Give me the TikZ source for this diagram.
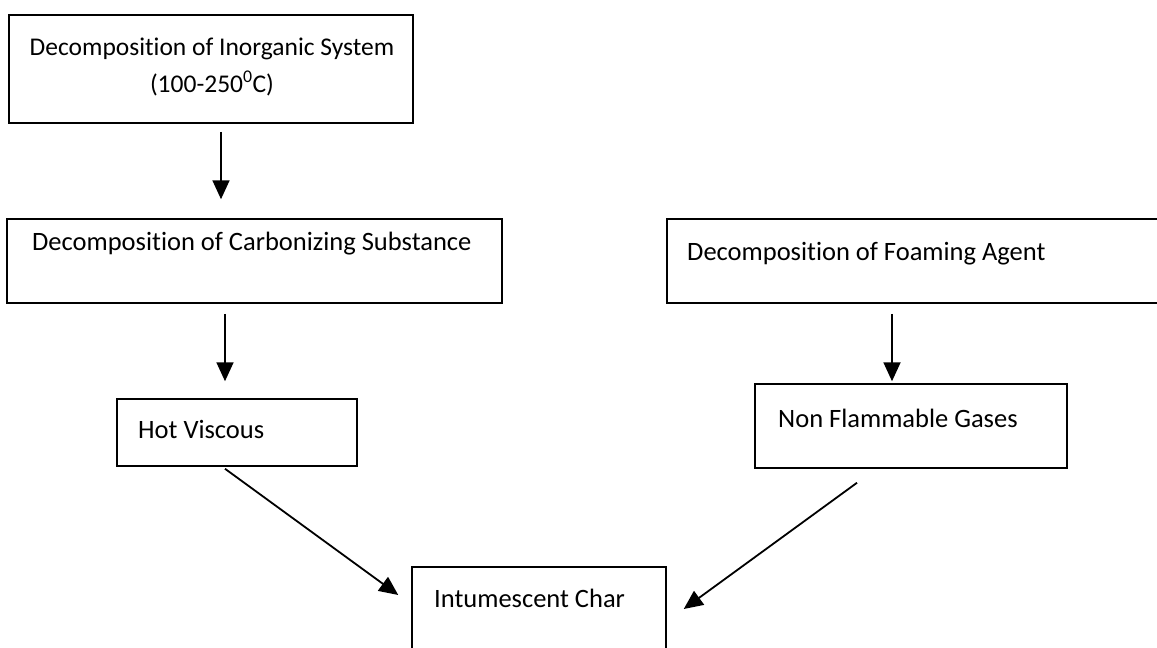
\documentclass[tikz,border=0pt]{standalone}
\usepackage{fontspec}
\setmainfont[Ligatures=NoCommon]{Carlito}
\usetikzlibrary{arrows.meta,calc}
\tikzset{
  box/.style={draw, line width=1.5pt, rectangle, inner sep=0pt},
  lbl/.style={anchor=base west, inner sep=0pt, font=\fontsize{26.5}{32}\selectfont},
  lblsmall/.style={anchor=base, inner sep=0pt, font=\fontsize{25.5}{31}\selectfont},
  arr/.style={line width=1.8pt, -{Triangle[length=19pt,width=17pt]}},
}
\begin{document}
\begin{tikzpicture}[x=1pt,y=-1pt]
\useasboundingbox (0,0) rectangle (1157,648);
\clip (0,0) rectangle (1157,648);
\fill[white] (0,0) rectangle (1157,648);
% boxes
\node[box, minimum width=404pt, minimum height=108pt] (b1) at (211,69) {};
\node[box, minimum width=495pt, minimum height=84pt] (b2) at (254.5,261) {};
\node[box, minimum width=503pt, minimum height=84pt] (b3) at (918.5,261) {};
\node[box, minimum width=240pt, minimum height=67pt] (hv) at (237,432.5) {};
\node[box, minimum width=312pt, minimum height=84pt] (nf) at (911,426) {};
\node[box, minimum width=254pt, minimum height=93pt] (ic) at (539,613.5) {};
% texts
\node[lblsmall] (t1) at (212,55) {Decomposition of Inorganic System};
\node[lblsmall] (t1b) at (212,92) {(100-250\textsuperscript{0}C)};
\node[lbl] (t2) at (32,250) {Decomposition of Carbonizing Substance};
\node[lbl] (t3) at (687,260) {Decomposition of Foaming Agent};
\node[lbl] (t4) at (138,438) {Hot Viscous};
\node[lbl] (t5) at (778,427) {Non Flammable Gases};
\node[lbl] (t6) at (434,607) {Intumescent Char};
% arrows
\draw[arr] ($(b1.south)+(10,8)$) -- ($(b2.north)+(-33.5,-19)$);
\draw[arr] ($(b2.south)+(-29.5,10)$) -- ($(hv.north)+(-12,-17)$);
\draw[arr] ($(b3.south)+(-26.5,10)$) -- ($(nf.north)+(-19,-2)$);
\draw[arr] ($(hv.south)+(-12,2)$) -- ($(ic.west)+(-13,-18.5)$);
\draw[arr] ($(nf.south)+(-54,14)$) -- ($(ic.east)+(17,-4.5)$);
\end{tikzpicture}
\end{document}
